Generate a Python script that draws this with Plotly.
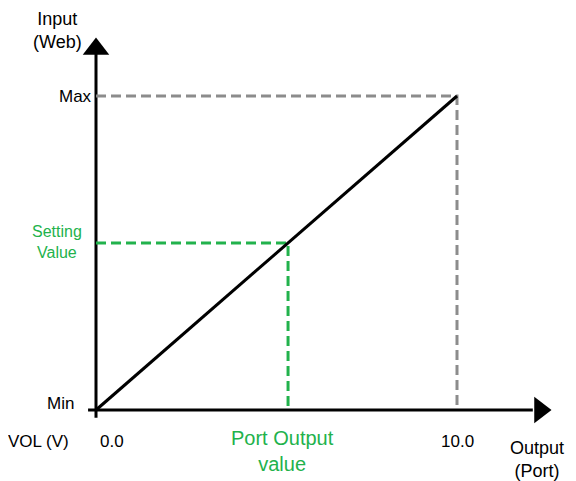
import plotly.graph_objects as go

# data (x: output 0..10 V, y: input Min..Max mapped to 0..10)
line_x = [0, 10]
line_y = [0, 10]
max_val = 10
out_max = 10
setting_val = 5.32
port_out = 5.32

x_labels = ["0.0", "10.0"]
y_labels = ["Min", "Max"]

GREEN = "#22B24C"
GREY = "#8C8C8C"
FONT = "Liberation Sans, Arial, sans-serif"

# the page body adds an 8px margin, so the figure is drawn 8px smaller
W, H = 568, 473
ox, oy, sx, sy = 88, 402, 36.1, 31.4
xr = [-ox / sx, (W - ox) / sx]
yr = [-(H - oy) / sy, oy / sy]

fig = go.Figure()

# axes
fig.add_trace(go.Scatter(x=[0, 0], y=[-0.25, 11.4], mode="lines",
                         line=dict(color="black", width=3), showlegend=False, hoverinfo="skip"))
fig.add_trace(go.Scatter(x=[-0.22, 12.1], y=[0, 0], mode="lines",
                         line=dict(color="black", width=3), showlegend=False, hoverinfo="skip"))
fig.add_trace(go.Scatter(x=[0], y=[11.5], mode="markers",
                         marker=dict(symbol="triangle-up", size=23, color="black"),
                         showlegend=False, hoverinfo="skip"))
fig.add_trace(go.Scatter(x=[12.3], y=[0], mode="markers",
                         marker=dict(symbol="triangle-right", size=23, color="black"),
                         showlegend=False, hoverinfo="skip"))

# grey max guides
fig.add_trace(go.Scatter(x=[0, out_max, out_max], y=[max_val, max_val, 0], mode="lines",
                         line=dict(color=GREY, width=3, dash="10px,5px"),
                         showlegend=False, hoverinfo="skip"))
# green setting guides
fig.add_trace(go.Scatter(x=[0, port_out, port_out], y=[setting_val, setting_val, 0], mode="lines",
                         line=dict(color=GREEN, width=3, dash="10px,5px"),
                         showlegend=False, hoverinfo="skip"))
# main line
fig.add_trace(go.Scatter(x=line_x, y=line_y, mode="lines",
                         line=dict(color="black", width=3), showlegend=False, hoverinfo="skip"))

def label(x, y, text, size=16, color="black", xanchor="center"):
    fig.add_annotation(x=x, y=y, text=text, showarrow=False, xanchor=xanchor, yanchor="middle",
                       font=dict(family=FONT, size=size, color=color))

# helpers: reference-pixel position -> data units
px = lambda p: (p - 8 - ox) / sx
py = lambda p: (oy - (p - 8)) / sy

label(px(57), py(30), "Input<br>(Web)", size=18)
label(px(94), max_val, y_labels[1], size=17, xanchor="right")
label(px(84), py(242), "Setting<br>Value", size=16, color=GREEN, xanchor="right")
label(px(76), py(403), y_labels[0], size=17, xanchor="right")
label(px(38), py(441), "VOL (V)", size=17)
label(px(112), py(441), x_labels[0], size=17)
label(out_max, py(441), x_labels[1], size=17)
label(px(282), py(451), "Port Output<br>value", size=20, color=GREEN)
label(px(566), py(459), "Output<br>(Port)", size=18, xanchor="right")

fig.update_xaxes(range=xr, visible=False, fixedrange=True)
fig.update_yaxes(range=yr, visible=False, fixedrange=True)
fig.update_layout(width=W, height=H, margin=dict(l=0, r=0, t=0, b=0),
                  plot_bgcolor="white", paper_bgcolor="white")

fig.write_html("out.html")
